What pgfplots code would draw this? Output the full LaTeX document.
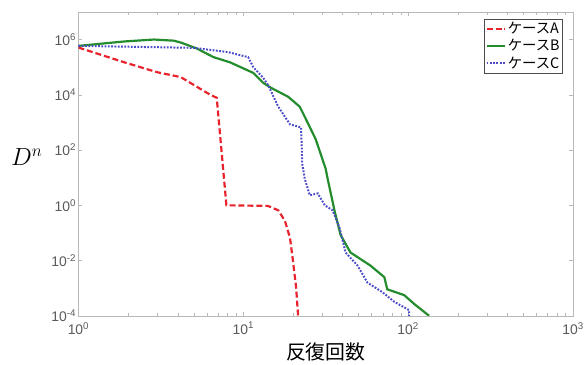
\documentclass[border=0pt]{standalone}
\usepackage{pgfplots}
\pgfplotsset{compat=1.18}
\usepackage{fontspec}
\setmainfont{Liberation Sans}
\newfontfamily\jp{Noto Sans CJK JP}
\definecolor{cA}{RGB}{232,35,45}
\definecolor{cB}{RGB}{35,140,45}
\definecolor{cC}{RGB}{75,75,200}
\definecolor{tk}{RGB}{90,90,90}
\begin{document}
\begin{tikzpicture}
\begin{axis}[
  scale only axis, width=498pt, height=306pt,
  xmode=log, ymode=log,
  xmin=1, xmax=1000, ymin=1e-4, ymax=1e7,
  axis line style={draw=gray!55},
  tick style={draw=gray!55},
  tick align=inside,
  major tick length=4pt, minor tick length=3pt,
  xtick={1,10,100,1000},
  xticklabels={10\textsuperscript{0},10\textsuperscript{1},10\textsuperscript{2},10\textsuperscript{3}},
  minor xtick={2,3,4,5,6,7,8,9,20,30,40,50,60,70,80,90,200,300,400,500,600,700,800,900},
  ytick={1e-4,1e-2,1,1e2,1e4,1e6},
  yticklabels={10\textsuperscript{-4},10\textsuperscript{-2},10\textsuperscript{0},10\textsuperscript{2},10\textsuperscript{4},10\textsuperscript{6}},
  minor ytick={},
  ticklabel style={font=\fontsize{14}{16}\selectfont, text=tk},
  xticklabel style={yshift=-3pt},
  yticklabel style={xshift=1pt},
  legend style={at={(1,1)}, anchor=north east, xshift=-11pt, yshift=-7pt,
    font=\jp\fontsize{14.5}{19}\selectfont, draw=black!70, inner xsep=1pt, inner ysep=2pt,
    row sep=2pt, nodes={inner sep=1.2pt}},
  legend cell align=left,
  legend image code/.code={\draw[#1] (0pt,0pt) -- (19pt,0pt);},
]
\addplot[cA, line width=2.2pt, dashed, dash pattern=on 6pt off 3pt] coordinates {
(1,5.13e5) (1.89,1.51e5) (2.99,6.6e4) (4.17,4.37e4) (5.0,2.29e4) (6.3,1e4) (6.9,7.8e3)
(7.9,1) (14.1,0.95) (16.3,0.66) (17.9,0.27) (19.2,0.066) (20.0,0.01) (20.9,0.0011) (21.5,1e-4)};
\addlegendentry{ケースA}
\addplot[cB, line width=2.2pt] coordinates {
(1,5.9e5) (1.89,8.5e5) (2.87,1e6) (3.79,9.1e5) (4.17,7.8e5) (5.2,4.8e5) (6.6,2.3e5) (8.3,1.5e5)
(11.5,6.2e4) (13.2,2.7e4) (14.7,1.8e4) (18.7,8.5e3) (22.0,3.7e3) (24.0,1.3e3) (27.5,245)
(31.6,21) (32.5,9) (35.8,0.62) (38.9,0.085) (44.7,0.0195) (59.0,0.0066) (71.7,0.0025)
(74.7,9.1e-4) (94.6,5.6e-4) (108.7,2.7e-4) (134,1e-4)};
\addlegendentry{ケースB}
\addplot[cC, line width=2pt, dash pattern=on 1.8pt off 1.5pt] coordinates {
(1,5.9e5) (5.0,5.0e5) (8.1,3.5e5) (10.7,2.3e5) (11.5,1e5) (13.2,4.1e4) (14.1,2.3e4) (16.3,3.7e3)
(19.2,850) (22.4,660) (22.8,30) (23.6,9.1) (25.3,2.3) (28.3,2.7) (31.2,1) (34.8,0.66)
(38.4,0.15) (41.7,0.0195) (49.3,0.0066) (56.6,0.0016) (69.7,7.2e-4) (82.4,3.2e-4)
(101.4,1.6e-4) (101.4,1e-4)};
\addlegendentry{ケースC}
\end{axis}
\node at (current axis.south west) [xshift=-52pt, yshift=160pt, font=\fontsize{26}{28}\selectfont] {$D^n$};
\node at (current axis.south) [yshift=-36pt, font=\jp\fontsize{20}{22}\selectfont] {反復回数};
\path (current axis.south west) ++(-79pt,-47pt) rectangle ++(587pt,365pt);
\end{tikzpicture}
\end{document}
